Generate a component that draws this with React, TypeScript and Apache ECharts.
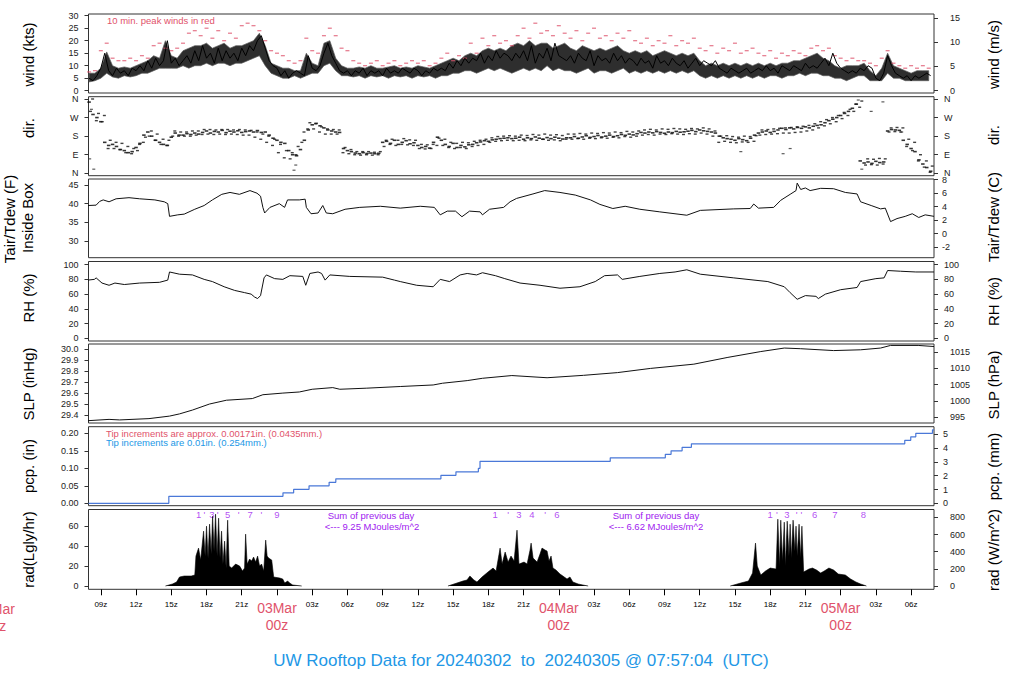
import React, { useEffect, useRef } from "react";
import * as echarts from "echarts";

const FONT = '"Liberation Sans", Arial, Helvetica, sans-serif';
const RED = "#DF536B";
const BLUE = "#2297E6";
const PURPLE = "#A020F0";
const PCP_BLUE = "#4A78D8";

// time in hours relative to 2024-03-03 00z
const T_MIN = -16.05;
const T_MAX = 55.95;
const xTickValues = [-15, -12, -9, -6, -3, 0, 3, 6, 9, 12, 15, 18, 21, 24, 27, 30, 33, 36, 39, 42, 45, 48, 51, 54];
const xTickLabels = ["09z", "12z", "15z", "18z", "21z", "03Mar\n00z", "03z", "06z", "09z", "12z", "15z", "18z", "21z", "04Mar\n00z", "03z", "06z", "09z", "12z", "15z", "18z", "21z", "05Mar\n00z", "03z", "06z"];

// wind speed (kts), every 20 min from t0
const WIND_T0 = -16;
const WIND_DT = 1 / 3;
const windKts = [5, 4, 6, 9, 15, 8, 6, 9, 7, 8, 6, 9, 8, 10, 8, 12, 9, 13, 10, 12, 20, 11, 13, 10, 12, 14, 11, 16, 12, 18, 13, 15, 11, 17, 12, 16, 13, 15, 12, 17, 14, 18, 16, 20, 22, 17, 12, 10, 9, 6, 8, 5, 7, 8, 7, 6, 14, 9, 8, 10, 15, 19, 14, 11, 8, 7, 8, 6, 8, 7, 9, 6, 8, 7, 8, 6, 9, 7, 8, 7, 9, 8, 7, 9, 8, 6, 8, 7, 9, 8, 9, 8, 11, 9, 12, 10, 13, 11, 13, 12, 15, 11, 14, 12, 16, 13, 15, 14, 12, 15, 13, 16, 12, 18, 11, 15, 13, 17, 12, 19, 14, 13, 12, 14, 11, 15, 13, 12, 16, 10, 14, 12, 13, 11, 15, 12, 14, 11, 13, 12, 10, 13, 11, 12, 9, 14, 11, 12, 10, 13, 11, 10, 12, 9, 11, 13, 10, 12, 11, 10, 12, 9, 8, 7, 9, 8, 7, 8, 9, 7, 8, 9, 8, 10, 8, 9, 7, 10, 9, 8, 10, 9, 8, 11, 9, 10, 9, 11, 13, 10, 15, 11, 9, 8, 7, 8, 7, 9, 8, 10, 9, 5, 4, 7, 14, 10, 7, 6, 5, 6, 4, 6, 5, 6, 7, 6];

// 1-min wind envelope (kts), every 30 min
const BAND_T0 = -16;
const BAND_DT = 0.5;
const windLo = [3.5, 4, 5, 7, 5.5, 5, 6, 5.5, 6, 7, 7, 8, 9, 9, 9, 9, 10, 9, 10, 10, 11, 10, 11, 11, 10, 11, 11, 12, 13, 14, 10, 7, 6, 5, 5, 6, 5, 6, 7, 7, 10, 11, 8, 6, 6, 5.5, 6, 5, 6, 5.5, 6, 5, 6, 5.5, 6, 5, 6, 5.5, 6, 5, 6, 6, 7, 7, 8, 8, 7, 8, 9, 8, 9, 8, 7, 8, 9, 8, 9, 8, 10, 8, 9, 8, 8, 7, 8, 9, 7, 8, 8, 7, 8, 9, 7, 8, 7, 8, 7, 8, 7, 8, 7, 8, 7, 8, 6, 5, 6, 5, 6, 5, 6, 5, 6, 5, 6, 5, 6, 6, 5, 6, 6, 7, 6, 7, 7, 6, 6, 5, 5, 4, 5, 6, 6, 4, 4, 4, 7, 5, 5, 4, 4, 4, 4, 4];
const windHi = [7, 7, 9, 15.5, 10, 9, 9.5, 9, 10, 11, 12, 14, 13, 20, 14, 13, 16, 17, 18, 18, 19, 17, 18, 19, 17, 18, 18, 19, 20, 23, 18, 11, 10, 9, 9, 8, 8, 15, 11, 10, 19, 20, 13, 10, 9, 9, 9.5, 9, 10, 9, 9, 9.5, 10, 9, 9.5, 9, 10, 9.5, 9, 10, 11, 12, 13, 12, 14, 15, 14, 16, 17, 16, 17, 16, 18, 19, 18, 20, 18, 19, 19, 17, 18, 19, 17, 16, 18, 17, 16, 17, 16, 17, 18, 16, 15, 16, 15, 16, 14, 15, 16, 15, 14, 15, 14, 15, 12, 10, 11, 10, 11, 10, 11, 10, 11, 10, 11, 10, 11, 10, 11, 11, 12, 12, 13, 14, 15, 13, 12, 10, 9, 10, 10, 10, 11, 8, 6, 9, 15, 10, 9, 8, 7, 8, 8, 8];

// 10-min peak winds (kts), every 30 min
const PEAK_T0 = -16;
const PEAK_DT = 0.5;
const peakKts = [7.5, 8, 16, 19, 13, 12, 12, 13, 12, 14, 13, 18, 19, 17, 16, 17, 19, 23, 24, 22, 25, 21, 24, 20, 23, 21, 26, 27, 26, 24, 20, 16, 15, 14, 12, 11, 12, 21, 16, 15, 22, 25, 22, 17, 16, 12, 11, 10, 11, 12, 10, 11, 12, 10, 11, 12, 11, 12, 10, 11, 13, 15, 12, 14, 13, 19, 15, 21, 18, 22, 19, 20, 18, 22, 25, 21, 27, 23, 24, 22, 26, 23, 21, 24, 20, 23, 25, 21, 22, 20, 23, 21, 24, 20, 19, 21, 18, 20, 19, 22, 18, 20, 19, 21, 17, 16, 18, 15, 17, 16, 19, 15, 16, 17, 15, 14, 16, 13, 15, 14, 16, 15, 14, 17, 18, 16, 17, 14, 13, 12, 13, 12, 12, 11, 10, 13, 16, 11, 10, 9, 10, 9, 10, 9];

// wind direction (deg), every 20 min from t0
const DIR_T0 = -16;
const DIR_DT = 1 / 3;
const dirDeg = [345, 285, 270, 250, 150, 135, 140, 130, 115, 110, 100, 105, 125, 145, 185, 200, 180, 160, 150, 140, 135, 175, 195, 185, 185, 192, 188, 195, 190, 198, 205, 195, 203, 200, 208, 197, 204, 200, 206, 198, 202, 205, 200, 207, 198, 200, 185, 170, 160, 150, 145, 110, 90, 85, 115, 160, 210, 235, 242, 230, 220, 210, 205, 200, 198, 120, 110, 105, 98, 95, 100, 96, 98, 95, 97, 150, 155, 145, 160, 140, 150, 158, 143, 148, 135, 125, 130, 122, 150, 175, 160, 140, 130, 145, 125, 135, 128, 138, 140, 148, 152, 158, 155, 162, 165, 168, 170, 172, 168, 170, 175, 165, 172, 168, 176, 170, 165, 173, 168, 175, 170, 166, 172, 172, 178, 170, 176, 182, 174, 178, 183, 176, 180, 185, 178, 182, 188, 184, 190, 186, 192, 198, 195, 200, 196, 202, 198, 194, 200, 197, 203, 199, 201, 204, 208, 202, 210, 206, 203, 200, 195, 180, 172, 168, 165, 160, 168, 163, 158, 170, 185, 195, 200, 205, 198, 203, 210, 218, 212, 220, 215, 222, 218, 225, 220, 228, 232, 235, 245, 255, 262, 270, 280, 290, 300, 315, 335, 60, 50, 55, 48, 58, 52, 55, 205, 212, 210, 208, 160, 140, 120, 105, 65, 45, 28, 10];
// lower and upper edges of the direction scatter, every 30 min
const dirBandLo = [300, 255, 250, 120, 120, 115, 100, 95, 110, 150, 180, 160, 140, 135, 180, 180, 180, 180, 185, 188, 190, 188, 190, 188, 190, 188, 185, 185, 175, 165, 150, 135, 100, 75, 70, 90, 150, 215, 215, 200, 190, 190, 190, 100, 95, 90, 88, 90, 88, 90, 130, 140, 135, 140, 138, 135, 120, 118, 120, 135, 135, 125, 120, 125, 120, 130, 135, 140, 150, 155, 158, 160, 158, 160, 158, 162, 160, 165, 160, 162, 158, 165, 165, 168, 165, 170, 168, 172, 170, 175, 172, 178, 175, 180, 185, 188, 185, 190, 188, 192, 190, 188, 192, 190, 195, 190, 180, 150, 155, 150, 148, 152, 150, 155, 185, 188, 190, 192, 195, 195, 198, 200, 205, 210, 220, 230, 240, 250, 265, 280, 300, 320, 40, 42, 40, 45, 200, 202, 200, 130, 110, 60, 30, 5];
const dirBandHi = [360, 290, 280, 160, 150, 145, 130, 120, 140, 175, 205, 190, 165, 160, 205, 200, 200, 205, 205, 212, 212, 210, 212, 212, 210, 212, 210, 208, 200, 190, 180, 165, 140, 110, 100, 130, 200, 245, 240, 225, 215, 212, 210, 125, 115, 105, 105, 105, 102, 105, 160, 165, 160, 168, 162, 160, 140, 138, 140, 170, 165, 150, 145, 150, 148, 155, 160, 165, 172, 178, 180, 182, 180, 185, 183, 188, 185, 190, 185, 187, 183, 190, 190, 193, 190, 195, 193, 197, 195, 200, 197, 203, 200, 205, 210, 213, 210, 215, 213, 217, 215, 213, 217, 215, 220, 215, 205, 180, 182, 178, 175, 180, 178, 182, 210, 212, 215, 218, 220, 222, 225, 228, 232, 240, 250, 260, 270, 280, 295, 310, 335, 350, 70, 68, 72, 70, 220, 222, 220, 165, 150, 90, 60, 35];
const dirOutliers: [number, number][] = [[-15.95, 70], [-15.8, 310], [-15.6, 20], [1.45, 15], [1.6, 40], [39.5, 105], [43.1, 95], [43.7, 120], [49.5, 355], [49.8, 20], [51.6, 346], [50.6, 300], [53.2, 200]];

// inside-box air temperature (F)
const tempF: [number, number][] = [[-16.1, 39.5], [-15.4, 39.6], [-15.1, 40.6], [-14.8, 41], [-14.3, 40.5], [-13.7, 41.3], [-12.6, 41.6], [-11.7, 41.3], [-10.4, 41], [-9.6, 40.5], [-9.3, 40], [-9.15, 36.6], [-8.45, 37], [-7.9, 37.2], [-7.0, 38.5], [-6.2, 39.5], [-5.5, 41], [-4.7, 42.5], [-4.0, 43], [-3.2, 42.5], [-2.3, 43.5], [-1.7, 42.8], [-1.4, 42], [-1.2, 39], [-1.05, 37.5], [-0.6, 39], [0.2, 40], [0.65, 39], [0.9, 41], [1.9, 41], [2.4, 41.2], [2.5, 39], [2.9, 37.3], [3.5, 37.5], [3.9, 39.5], [4.2, 37.5], [4.75, 37.3], [5.8, 38.5], [7.05, 39], [8.8, 39.3], [10.5, 38.8], [12.2, 39.3], [13.4, 39], [13.9, 37], [14.5, 38], [15.2, 38], [15.75, 36.5], [16.4, 38], [17.3, 37.8], [17.5, 37], [18.1, 38.5], [19.3, 39], [19.85, 40.5], [20.4, 41.4], [21.8, 42.6], [22.8, 43.5], [24.1, 43], [25.4, 42.3], [26.7, 41], [27.5, 39.8], [28.6, 38.7], [29.65, 39.3], [30.9, 38.5], [32.6, 37.8], [34.9, 36.9], [36.05, 38.2], [38.9, 38.6], [40.3, 38.7], [40.6, 39.9], [41.0, 38.8], [42.3, 39], [42.9, 40.9], [43.7, 42.5], [44.2, 43.5], [44.3, 45.5], [44.6, 43.8], [45.0, 44.2], [45.4, 43.5], [46.3, 44.1], [47.4, 44], [48.4, 43], [49.4, 42.6], [49.7, 40.5], [50.6, 39.5], [51.4, 38.6], [51.8, 38.8], [52.25, 35.2], [52.8, 36], [53.5, 36.6], [54.1, 37.3], [54.65, 36.3], [55.2, 37], [55.95, 36.6]];

// relative humidity (%)
const rhPct: [number, number][] = [[-16.1, 79], [-15.55, 80], [-15.4, 82], [-14.9, 75], [-14.3, 72], [-13.8, 75], [-13.0, 73], [-11.7, 75], [-10.0, 76], [-9.3, 79], [-9.15, 90], [-8.3, 87], [-7.2, 86], [-6.2, 80], [-5.5, 77], [-4.5, 70], [-3.6, 65], [-2.75, 62], [-2.2, 60], [-1.9, 56], [-1.65, 54], [-1.4, 58], [-1.1, 82], [-0.9, 86], [-0.2, 81], [0.5, 80], [1.1, 85], [2.2, 84], [2.45, 72], [2.8, 88], [3.5, 90], [3.8, 88], [4.1, 79], [4.5, 86], [6.2, 84], [9.0, 83], [10.0, 79], [10.5, 77], [11.9, 72], [13.3, 70], [13.9, 80], [14.7, 77], [15.6, 86], [16.2, 88], [17.0, 86], [17.5, 89], [18.6, 85], [19.4, 81], [20.7, 75], [22.4, 72], [24.1, 68], [25.8, 70], [27.1, 77], [27.9, 85], [29.0, 86], [29.4, 80], [30.9, 84], [32.6, 88], [33.9, 90], [34.9, 93], [36.05, 87], [38.9, 82], [41.8, 77], [43.2, 70], [43.7, 62], [44.3, 53], [45.0, 58], [45.9, 57], [46.1, 54], [46.7, 60], [48.0, 66], [49.4, 69], [49.7, 77], [51.0, 81], [51.7, 82], [52.0, 92], [53.1, 91], [54.4, 90], [55.95, 90]];

// sea level pressure (inHg)
const slpInHg: [number, number][] = [[-16.1, 29.348], [-14.3, 29.36], [-13.4, 29.355], [-10.9, 29.367], [-9.15, 29.39], [-8.3, 29.41], [-7.2, 29.445], [-5.75, 29.5], [-4.3, 29.535], [-2.1, 29.55], [-1.2, 29.585], [0.5, 29.6], [1.9, 29.61], [3.0, 29.635], [4.75, 29.65], [5.35, 29.635], [7.65, 29.645], [10.5, 29.66], [13.3, 29.674], [14.1, 29.69], [16.2, 29.714], [17.5, 29.735], [20.0, 29.76], [23.0, 29.74], [26.1, 29.762], [29.0, 29.787], [31.8, 29.825], [35.5, 29.864], [38.4, 29.926], [41.2, 29.979], [43.2, 30.011], [44.6, 30.005], [47.4, 29.988], [49.7, 29.995], [51.4, 30.011], [52.25, 30.035], [54.6, 30.035], [55.95, 30.025]];

// accumulated precipitation (in)
const pcpHours = [-16.05, -9.21, 0.51, 1.42, 2.73, 4.44, 5.01, 13.96, 15.24, 17.15, 17.29, 28.38, 33.07, 33.56, 34.5, 35.29, 53.46, 53.97, 54.4, 55.82, 55.95];
const pcpIn = [0, 0.02, 0.03, 0.04, 0.05, 0.06, 0.07, 0.08, 0.09, 0.1, 0.12, 0.13, 0.14, 0.15, 0.16, 0.17, 0.18, 0.19, 0.2, 0.21, 0.21];

// solar radiation (Langley/hr), one array per day
const radDay1: [number, number][] = [[-9.5, 0], [-8.9, 2], [-8.55, 4], [-8.3, 9], [-7.9, 10], [-7.3, 10], [-7.0, 11], [-6.9, 30], [-6.68, 38], [-6.5, 26], [-6.38, 40], [-6.25, 55], [-6.12, 30], [-6.0, 60], [-5.87, 28], [-5.74, 62], [-5.6, 32], [-5.48, 70], [-5.36, 35], [-5.23, 72], [-5.1, 30], [-4.97, 68], [-4.85, 28], [-4.72, 55], [-4.6, 22], [-4.46, 45], [-4.33, 18], [-4.2, 66], [-4.07, 20], [-3.86, 18], [-3.52, 22], [-3.18, 20], [-2.93, 15], [-2.76, 18], [-2.67, 52], [-2.54, 22], [-2.33, 27], [-2.16, 25], [-1.99, 29], [-1.82, 24], [-1.65, 30], [-1.48, 20], [-1.31, 22], [-1.13, 15], [-0.96, 46], [-0.84, 30], [-0.71, 28], [-0.45, 26], [-0.28, 9], [0.23, 8], [0.49, 7], [0.66, 3], [0.91, 5], [1.08, 3], [1.34, 1], [2.11, 0]];
const radDay2: [number, number][] = [[14.56, 0], [15.33, 3], [15.84, 5], [16.18, 6], [16.43, 10], [16.77, 6], [17.03, 4], [17.46, 9], [17.97, 14], [18.4, 18], [18.66, 15], [19.0, 38], [19.17, 22], [19.43, 34], [19.68, 24], [19.93, 30], [20.19, 25], [20.44, 56], [20.61, 22], [21.04, 24], [21.3, 22], [21.55, 36], [21.64, 43], [21.81, 28], [22.15, 24], [22.4, 32], [22.57, 38], [22.83, 36], [23.0, 35], [23.17, 25], [23.34, 30], [23.5, 18], [23.76, 16], [24.1, 12], [24.35, 10], [24.7, 7], [24.95, 9], [25.2, 4], [25.65, 2], [26.05, 1], [26.5, 0]];
const radDay3: [number, number][] = [[38.6, 0], [39.5, 3], [40.15, 5], [40.5, 13], [40.75, 43], [40.9, 20], [41.2, 11], [41.6, 15], [42.0, 18], [42.5, 17], [42.65, 67], [42.8, 20], [42.9, 66], [43.05, 25], [43.2, 64], [43.3, 20], [43.45, 65], [43.6, 30], [43.7, 62], [43.8, 28], [43.95, 66], [44.1, 35], [44.2, 60], [44.3, 30], [44.46, 62], [44.6, 28], [44.7, 60], [44.85, 14], [45.3, 17], [45.6, 18], [45.95, 16], [46.3, 13], [46.6, 15], [47.0, 18], [47.4, 16], [47.8, 12], [48.4, 11], [48.85, 7], [49.3, 4], [49.7, 2], [50.2, 0]];

// purple hour marks above the radiation trace
const radMarkHours = [-6.68, -6.17, -5.54, -5.06, -4.2, -3.26, -2.29, -1.33, 0.0, 18.57, 19.68, 20.59, 21.7, 22.83, 23.84, 42.0, 42.58, 43.43, 44.25, 44.66, 45.78, 47.52, 49.93];
const radMarkText = ["1", "'", "3", "'", "5", "'", "7", "'", "9", "1", "'", "3", "4", "'", "6", "1", "'", "3", "'", "'", "6", "7", "8"];
const radSums = ["9.25", "6.62"];

// axis ticks
const windTicks = [0, 5, 10, 15, 20, 25, 30];
const windMsTicks = [0, 5, 10, 15];
const dirTicks = [0, 90, 180, 270, 360];
const dirLabels = ["N", "E", "S", "W", "N"];
const tempFTicks = [30, 35, 40, 45];
const tempCTicks = [-2, 0, 2, 4, 6, 8];
const rhTicks = [0, 20, 40, 60, 80, 100];
const slpTicks = [29.4, 29.5, 29.6, 29.7, 29.8, 29.9, 30.0];
const hpaTicks = [995, 1000, 1005, 1010, 1015];
const pcpTicks = [0, 0.05, 0.1, 0.15, 0.2];
const mmTicks = [0, 1, 2, 3, 4, 5];
const radTicks = [0, 20, 40, 60];
const wm2Ticks = [0, 200, 400, 600, 800];

const GRID_LEFT = 88.5;
const GRID_RIGHT = 90;
const GRID_TOPS = [14, 96.7, 179, 261.5, 344, 426.7, 509.5];
const GRID_HS = [79, 79, 78.7, 79.5, 79, 79, 79.8];

function yAx(grid: number, pos: string, min: number, max: number, ticks: number[], fmt: (v: number) => string, margin: number) {
  return {
    type: "value",
    gridIndex: grid,
    position: pos,
    min,
    max,
    axisLine: { show: false, onZero: false },
    splitLine: { show: false },
    axisTick: { show: true, length: 4, customValues: ticks, lineStyle: { color: "#333", width: 1 } },
    axisLabel: {
      show: true,
      customValues: ticks,
      formatter: fmt,
      margin,
      fontSize: 9,
      color: "#222",
      fontFamily: FONT,
      hideOverlap: false,
    },
  };
}

function nameText(text: string, x: number, y: number) {
  return {
    type: "text",
    x,
    y,
    rotation: Math.PI / 2,
    style: { text, fontSize: 15, fontFamily: FONT, fill: "#000", align: "center", verticalAlign: "middle" },
  };
}

function plainText(text: string, x: number, y: number, color: string, size: number, align = "left") {
  return {
    type: "text",
    x,
    y,
    style: { text, fontSize: size, fontFamily: FONT, fill: color, align, verticalAlign: "middle" },
  };
}

export default function App() {
  const ref = useRef<HTMLDivElement>(null);

  useEffect(() => {
    if (!ref.current) return;
    const chart = echarts.init(ref.current, null, { renderer: "svg" });

    const kt2ms = 0.514444;
    const f2c = (f: number) => (f - 32) / 1.8;
    const inHg2hPa = 33.8639;
    const in2mm = 25.4;
    const ly2wm2 = 11.63;

    const L = [
      { min: -0.92, max: 30.68 },
      { min: -11.6, max: 371.1 },
      { min: 25.53, max: 46.6 },
      { min: -3.5, max: 104.2 },
      { min: 29.327, max: 30.048 },
      { min: -0.0069, max: 0.2189 },
      { min: -3.3, max: 76.7 },
    ];

    const int = (v: number) => String(Math.round(v));
    const dirFmt = (v: number) => dirLabels[dirTicks.indexOf(Math.round(v))] || "";

    const yAxes = [
      yAx(0, "left", L[0].min, L[0].max, windTicks, int, 10),
      yAx(0, "right", L[0].min * kt2ms, L[0].max * kt2ms, windMsTicks, int, 16),
      yAx(1, "left", L[1].min, L[1].max, dirTicks, dirFmt, 10),
      yAx(1, "right", L[1].min, L[1].max, dirTicks, dirFmt, 10),
      yAx(2, "left", L[2].min, L[2].max, tempFTicks, int, 10),
      yAx(2, "right", f2c(L[2].min), f2c(L[2].max), tempCTicks, int, 8),
      yAx(3, "left", L[3].min, L[3].max, rhTicks, int, 10),
      yAx(3, "right", L[3].min, L[3].max, rhTicks, int, 10),
      yAx(4, "left", L[4].min, L[4].max, slpTicks, (v: number) => v.toFixed(1), 10),
      yAx(4, "right", L[4].min * inHg2hPa, L[4].max * inHg2hPa, hpaTicks, int, 16),
      yAx(5, "left", L[5].min, L[5].max, pcpTicks, (v: number) => v.toFixed(2), 10),
      yAx(5, "right", L[5].min * in2mm, L[5].max * in2mm, mmTicks, int, 9),
      yAx(6, "left", L[6].min, L[6].max, radTicks, int, 10),
      yAx(6, "right", L[6].min * ly2wm2, L[6].max * ly2wm2, wm2Ticks, int, 16),
    ];

    const grids = GRID_TOPS.map((top, i) => ({
      left: GRID_LEFT,
      right: GRID_RIGHT,
      top,
      height: GRID_HS[i],
      show: true,
      borderColor: "#333",
      borderWidth: 1,
      backgroundColor: "transparent",
    }));

    const xAxes = GRID_TOPS.map((_, i) =>
      i < 6
        ? { type: "value", gridIndex: i, min: T_MIN, max: T_MAX, show: false, axisLine: { show: false, onZero: false } }
        : {
            type: "value",
            gridIndex: i,
            min: T_MIN,
            max: T_MAX,
            axisLine: { show: false, onZero: false },
            splitLine: { show: false },
            axisTick: { show: true, length: 6, customValues: xTickValues, lineStyle: { color: "#000", width: 1 } },
            axisLabel: {
              show: true,
              customValues: xTickValues,
              margin: 10,
              hideOverlap: false,
              formatter: (v: number) => {
                const idx = xTickValues.indexOf(Math.round(v));
                const lab = idx >= 0 ? xTickLabels[idx] : "";
                if (lab.indexOf("Mar") >= 0) {
                  const parts = lab.split("\n");
                  return `{d|${parts[0]}}\n{d|${parts[1]}}`;
                }
                return `{h|${lab}}`;
              },
              rich: {
                h: { fontSize: 8, fontFamily: FONT, color: "#000", lineHeight: 10 },
                d: { fontSize: 14, fontFamily: FONT, color: RED, lineHeight: 17 },
              },
            },
          }
    );

    const lineBase = { type: "line", showSymbol: false, symbol: "none", silent: true, animation: false };
    const dash = (name: string, xi: number, yi: number, data: any[], color: string, size: number[]) => ({
      type: "scatter",
      name,
      xAxisIndex: xi,
      yAxisIndex: yi,
      symbol: "rect",
      symbolSize: size,
      itemStyle: { color },
      silent: true,
      data,
    });

    const bandData = windLo.map((v, i) => [BAND_T0 + i * BAND_DT, v, windHi[i]]);

    const series: any[] = [
      {
        type: "custom",
        name: "windBand",
        xAxisIndex: 0,
        yAxisIndex: 0,
        silent: true,
        clip: true,
        data: bandData,
        encode: { x: 0, y: [1, 2] },
        renderItem: (params: any, api: any) => {
          if (params.dataIndex !== 0) return null;
          const pts: number[][] = [];
          for (let i = 0; i < bandData.length; i++) pts.push(api.coord([bandData[i][0], bandData[i][2]]));
          for (let i = bandData.length - 1; i >= 0; i--) pts.push(api.coord([bandData[i][0], bandData[i][1]]));
          return { type: "polygon", shape: { points: pts }, style: { fill: "#2e2e2e", stroke: "#5a5a5a", lineWidth: 0.7 } };
        },
        z: 1,
      },
      {
        ...lineBase,
        name: "wind",
        xAxisIndex: 0,
        yAxisIndex: 0,
        data: windKts.map((v, i) => [WIND_T0 + i * WIND_DT, v]),
        lineStyle: { color: "#000", width: 1 },
        z: 3,
      },
      dash("peak", 0, 0, peakKts.map((v, i) => [PEAK_T0 + i * PEAK_DT, v]), RED, [4, 1.2]),
      dash("dir", 1, 2, dirDeg.map((v, i) => [DIR_T0 + i * DIR_DT, v]), "#000", [3.5, 1.6]),
      dash("dirLo", 1, 2, dirBandLo.map((v, i) => [BAND_T0 + 0.12 + i * BAND_DT, v]), "#111", [3, 1.4]),
      dash("dirHi", 1, 2, dirBandHi.map((v, i) => [BAND_T0 + 0.3 + i * BAND_DT, v]), "#111", [3, 1.4]),
      dash("dirOut", 1, 2, dirOutliers, "#333", [3, 1.2]),
      { ...lineBase, name: "temp", xAxisIndex: 2, yAxisIndex: 4, data: tempF, lineStyle: { color: "#111", width: 1 } },
      { ...lineBase, name: "rh", xAxisIndex: 3, yAxisIndex: 6, data: rhPct, lineStyle: { color: "#111", width: 1 } },
      { ...lineBase, name: "slp", xAxisIndex: 4, yAxisIndex: 8, data: slpInHg, lineStyle: { color: "#111", width: 1 } },
      {
        ...lineBase,
        name: "pcp",
        xAxisIndex: 5,
        yAxisIndex: 10,
        step: "end",
        data: pcpHours.map((t, i) => [t, pcpIn[i]]),
        lineStyle: { color: PCP_BLUE, width: 1.2 },
      },
      ...[radDay1, radDay2, radDay3].map((d, k) => ({
        ...lineBase,
        name: "rad" + k,
        xAxisIndex: 6,
        yAxisIndex: 12,
        data: d,
        lineStyle: { color: "#000", width: 0.6 },
        areaStyle: { color: "#000", opacity: 1 },
      })),
      {
        type: "scatter",
        name: "radMarks",
        xAxisIndex: 6,
        yAxisIndex: 12,
        symbolSize: 0.1,
        itemStyle: { color: "transparent" },
        silent: true,
        data: radMarkHours.map((t, i) => [t, 72, radMarkText[i]]),
        label: {
          show: true,
          position: "inside",
          formatter: (p: any) => p.data[2],
          color: PURPLE,
          fontSize: 9.5,
          fontFamily: FONT,
        },
      },
    ];

    const graphic: any[] = [
      nameText("wind (kts)", 28, 54.5),
      nameText("dir.", 28, 128),
      nameText("Tair/Tdew (F)", 9, 219),
      nameText("Inside Box", 27.5, 218),
      nameText("RH (%)", 28, 298),
      nameText("SLP (inHg)", 28, 384),
      nameText("pcp. (in)", 28, 466),
      nameText("rad(Lgly/hr)", 28, 549.5),
      nameText("wind (m/s)", 993, 54.5),
      nameText("dir.", 993, 135),
      nameText("Tair/Tdew (C)", 993, 217),
      nameText("RH (%)", 993, 301.5),
      nameText("SLP (hPa)", 993, 385),
      nameText("pcp. (mm)", 993, 466.5),
      nameText("rad (W/m^2)", 993, 550),
      plainText("10 min. peak winds in red", 107, 20, RED, 9.5),
      plainText("Tip increments are approx. 0.00171in. (0.0435mm.)", 106, 433, RED, 9.5),
      plainText("Tip increments are 0.01in. (0.254mm.)", 106, 442, BLUE, 9.5),
      plainText("Sum of previous day", 371, 515, PURPLE, 9.5, "center"),
      plainText("<--- " + radSums[0] + " MJoules/m^2", 372, 526, PURPLE, 9.5, "center"),
      plainText("Sum of previous day", 656, 515, PURPLE, 9.5, "center"),
      plainText("<--- " + radSums[1] + " MJoules/m^2", 656, 526, PURPLE, 9.5, "center"),
      {
        type: "text",
        x: -5,
        y: 600,
        style: { text: "02Mar\n00z", fontSize: 14, lineHeight: 17, fontFamily: FONT, fill: RED, align: "center", verticalAlign: "top" },
      },
      plainText("UW Rooftop Data for 20240302  to  20240305 @ 07:57:04  (UTC)", 521, 660, BLUE, 17, "center"),
    ];

    chart.setOption({
      animation: false,
      backgroundColor: "#fff",
      textStyle: { fontFamily: FONT },
      grid: grids,
      xAxis: xAxes,
      yAxis: yAxes,
      series,
      graphic,
    });

    return () => chart.dispose();
  }, []);

  return <div ref={ref} style={{ position: "absolute", left: 0, top: 0, width: 1024, height: 700 }} />;
}
